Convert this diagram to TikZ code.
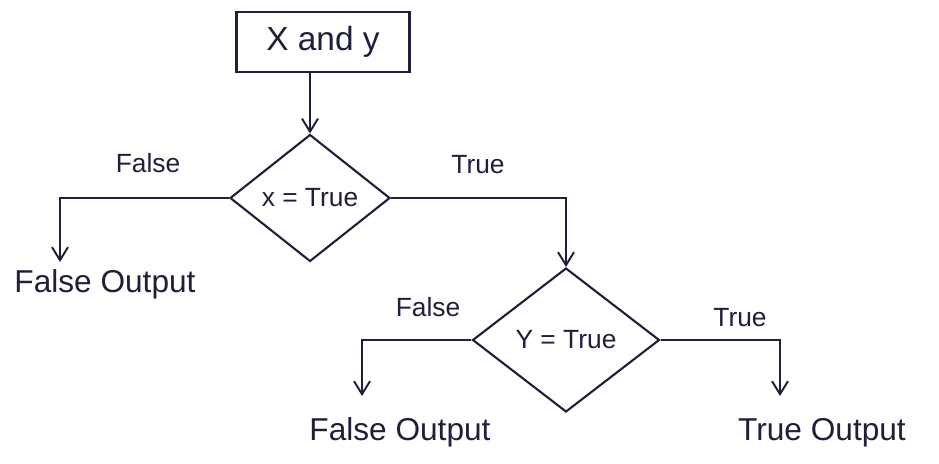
\documentclass[tikz,border=0pt]{standalone}
\usepackage{fontspec}
\setmainfont{Liberation Sans}
\usepackage{xcolor}
\usetikzlibrary{arrows.meta,positioning,shapes.geometric}
\definecolor{ink}{HTML}{1E1F3A}
\tikzset{
  inbox/.style={rectangle,draw=ink,line width=1.3pt,minimum width=3.46cm,minimum height=1.2cm,inner sep=1pt,font=\fontsize{19}{21}\selectfont},
  test/.style={diamond,draw=ink,line width=1.2pt,inner sep=0pt,font=\fontsize{15}{17}\selectfont},
  flow/.style={line width=1.1pt,ink,-{Straight Barb[length=2.6mm,width=3.2mm]}},
  lab/.style={font=\fontsize{15}{17}\selectfont,text=ink},
  outlab/.style={font=\fontsize{18}{20}\selectfont,text=ink}
}
\begin{document}
\begin{tikzpicture}[x=0.02cm,y=-0.02cm]
  \useasboundingbox[fill=white] (0,0) rectangle (939,463);
  % input and first test
  \node[inbox,text=ink] (xy) at (323,42) {X and y};
  \node[test,minimum width=3.2cm,minimum height=2.54cm,text=ink] (tx) at (310,198) {x = True};
  \draw[flow] (xy.south -| tx.north) -- (tx.north);
  % x false
  \coordinate (fx) at (60,262);
  \node[outlab] (fxo) at (105,284) {False Output};
  \draw[flow] (tx.west) -| (fx);
  \node[lab] (fxl) at (148,163) {False};
  % x true -> second test
  \node[test,minimum width=3.74cm,minimum height=2.88cm,text=ink] (ty) at (566,340) {Y = True};
  \draw[flow] (tx.east) -| (ty.north);
  \node[lab] (txl) at (478,165) {True};
  % y false
  \coordinate (fy) at (362,396);
  \node[outlab] (fyo) at (400,432) {False Output};
  \draw[flow] (ty.west) -| (fy);
  \node[lab] (fyl) at (428,307) {False};
  % y true
  \coordinate (ry) at (780,396);
  \node[outlab] (ryo) at (822,433) {True Output};
  \draw[flow] (ty.east) -| (ry);
  \node[lab] (ryl) at (740,318) {True};
\end{tikzpicture}
\end{document}
